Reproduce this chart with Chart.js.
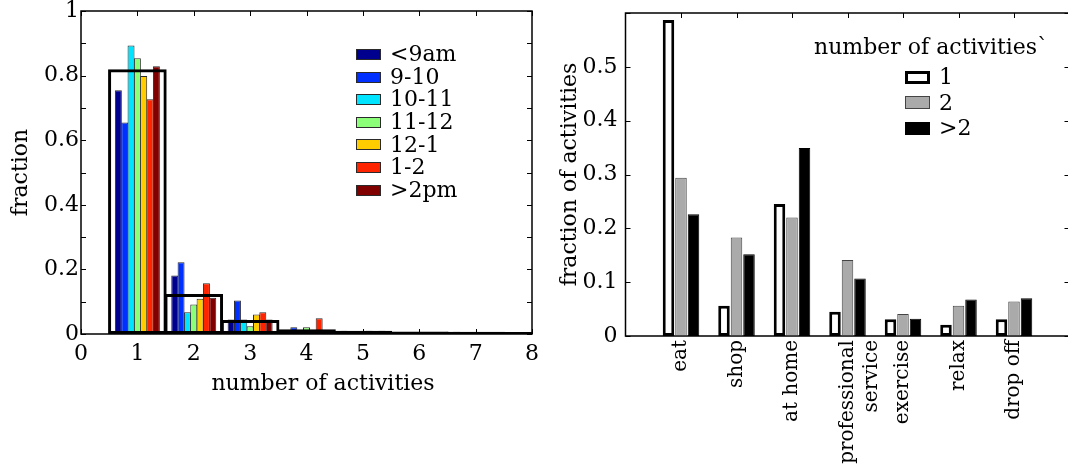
<!DOCTYPE html>
<html><head><meta charset="utf-8">
<script src="https://cdn.jsdelivr.net/npm/chart.js@4.4.1/dist/chart.umd.min.js"></script>
<style>
html,body{margin:0;padding:0;background:#fff;overflow:hidden;width:1068px;height:472px;position:relative;}
#c1{position:absolute;left:0;top:0;}
#c2{position:absolute;left:545px;top:0;}
</style></head><body>
<canvas id="c1" width="545" height="472"></canvas>
<canvas id="c2" width="540" height="472"></canvas>
<script>
const FAMILY = "'DejaVu Serif', 'Liberation Serif', serif";
const FSIZE = 22;

// ---------- Left chart data ----------
const activityCounts = [1, 2, 3, 4, 5, 6, 7, 8];
const timeLabels = ['<9am', '9-10', '10-11', '11-12', '12-1', '1-2', '>2pm'];
const timeColors = ['#00008f', '#0030ff', '#00e4ff', '#8cff78', '#ffcc00', '#ff2400', '#800000'];
const before9am = [0.755, 0.181, 0.045, 0.005, 0.010, 0.004, 0.007, 0.002];
const from9to10 = [0.655, 0.222, 0.104, 0.021, 0.004, 0.003, 0.002, 0.001];
const from10to11 = [0.893, 0.067, 0.045, 0.002, 0.002, 0.002, 0.002, 0.001];
const from11to12 = [0.854, 0.091, 0.024, 0.021, 0.006, 0.006, 0.002, 0.001];
const from12to1 = [0.799, 0.109, 0.060, 0.010, 0.010, 0.006, 0.002, 0.001];
const from1to2 = [0.727, 0.157, 0.067, 0.049, 0.003, 0.006, 0.002, 0.001];
const after2pm = [0.829, 0.112, 0.045, 0.005, 0.010, 0.004, 0.002, 0.001];
const allTimes = [0.820, 0.124, 0.043, 0.015, 0.010, 0.008, 0.007, 0.006];
const timeSeries = [before9am, from9to10, from10to11, from11to12, from12to1, from1to2, after2pm];

// ---------- Right chart data ----------
const activityTypes = ['eat', 'shop', 'at home', ['professional', 'service'], 'exercise', 'relax', 'drop off'];
const countLabels = ['1', '2', '>2'];
const oneActivity = [0.587, 0.056, 0.245, 0.045, 0.031, 0.021, 0.031];
const twoActivities = [0.294, 0.183, 0.220, 0.141, 0.041, 0.056, 0.064];
const moreActivities = [0.226, 0.152, 0.349, 0.107, 0.032, 0.068, 0.070];

const font = { family: FAMILY, size: FSIZE };
const fmt = v => String(+(+v).toFixed(1));

const framePlugin = {
  id: 'frame',
  beforeDatasetsDraw(chart, args, o) {
    const { ctx, chartArea: a, scales: { x, y } } = chart;
    ctx.save();
    ctx.strokeStyle = '#000';
    ctx.lineWidth = 1.5;
    ctx.strokeRect(a.left, a.top, a.right - a.left, a.bottom - a.top);
    const L = 5;
    ctx.lineWidth = 1;
    ctx.beginPath();
    x.ticks.forEach(t => {
      if (o.skipEdgeX && (t.value <= x.min || t.value >= x.max)) return;
      const px = Math.round(x.getPixelForValue(t.value)) + 0.5;
      ctx.moveTo(px, a.bottom); ctx.lineTo(px, a.bottom - L);
      ctx.moveTo(px, a.top); ctx.lineTo(px, a.top + L);
    });
    y.ticks.forEach(t => {
      const py = Math.round(y.getPixelForValue(t.value)) + 0.5;
      ctx.moveTo(a.left, py); ctx.lineTo(a.left + L, py);
      ctx.moveTo(a.right, py); ctx.lineTo(a.right - L, py);
    });
    ctx.stroke();
    ctx.restore();
  }
};

const legendPlugin = {
  id: 'boxLegend',
  afterDraw(chart, args, o) {
    const ctx = chart.ctx;
    ctx.save();
    ctx.font = FSIZE + 'px ' + FAMILY;
    ctx.textBaseline = 'middle';
    ctx.textAlign = 'left';
    ctx.fillStyle = '#000';
    if (o.title) ctx.fillText(o.title, o.titleX, o.titleY);
    const items = chart.data.datasets.filter(d => !d.hideInLegend);
    items.forEach((d, i) => {
      const cy = o.y + i * o.gap;
      const bw = d.legendBorder || 1;
      const top = Math.round(cy - o.h / 2);
      ctx.fillStyle = d.borderColor;
      ctx.fillRect(o.x, top, o.w, o.h);
      ctx.fillStyle = d.backgroundColor;
      ctx.fillRect(o.x + bw, top + bw, o.w - 2 * bw, o.h - 2 * bw);
      ctx.fillStyle = '#000';
      ctx.fillText(d.label, o.textX, cy + 1);
    });
    if (o.xTitle) {
      ctx.textAlign = 'center';
      ctx.fillText(o.xTitle, o.xTitleX, o.xTitleY);
    }
    ctx.restore();
  }
};

function noPad(s) { s.paddingTop = 0; s.paddingBottom = 0; s.paddingLeft = 0; s.paddingRight = 0; }

// ---------- Left chart ----------
const leftDatasets = [{
  label: 'all',
  data: activityCounts.map((c, i) => ({ x: c, y: allTimes[i] })),
  backgroundColor: 'rgba(0,0,0,0)',
  borderColor: '#000',
  borderWidth: 3,
  borderSkipped: false,
  grouped: false,
  categoryPercentage: 1,
  barPercentage: 1.04,
  clip: 0,
  hideInLegend: true,
  order: 0
}].concat(timeSeries.map((vals, k) => ({
  label: timeLabels[k],
  data: activityCounts.map((c, i) => ({ x: c, y: vals[i] })),
  backgroundColor: timeColors[k],
  borderColor: '#2a2a2a',
  borderWidth: 1,
  borderSkipped: false,
  categoryPercentage: 0.787,
  barPercentage: 1.1,
  order: 1
})));

new Chart(document.getElementById('c1'), {
  type: 'bar',
  data: { datasets: leftDatasets },
  options: {
    responsive: false,
    animation: false,
    devicePixelRatio: 1,
    events: [],
    layout: { padding: { left: 8, top: 11, right: 13, bottom: 74 } },
    plugins: {
      legend: { display: false },
      tooltip: { enabled: false },
      frame: {},
      boxLegend: { x: 356, y: 54.5, gap: 22.6, w: 25, h: 11, textX: 390,
        xTitle: 'number of activities', xTitleX: 323, xTitleY: 384 }
    },
    scales: {
      x: {
        type: 'linear', min: 0, max: 8, offset: false,
        afterFit: s => { s.height = 64; noPad(s); },
        grid: { display: false, drawTicks: false },
        border: { display: false },
        ticks: { stepSize: 1, autoSkip: false, maxRotation: 0, padding: 7, color: '#000', font,
          callback: v => fmt(v) }
      },
      y: {
        min: 0, max: 1,
        afterFit: s => { s.width = 73; noPad(s); },
        grid: { display: false, drawTicks: false },
        border: { display: false },
        ticks: { stepSize: 0.1, padding: 2, color: '#000', font,
          callback: v => (Math.round(v * 10) % 2 === 0 ? fmt(v) : '') },
        title: { display: true, text: 'fraction', color: '#000', font, padding: 0 }
      }
    }
  },
  plugins: [framePlugin, legendPlugin]
});

// ---------- Right chart ----------
const rightSeries = [oneActivity, twoActivities, moreActivities];
const rightStyles = [
  { backgroundColor: '#ffffff', borderColor: '#000000', borderWidth: 3, legendBorder: 3 },
  { backgroundColor: '#aaaaaa', borderColor: '#444444', borderWidth: 1, legendBorder: 1 },
  { backgroundColor: '#000000', borderColor: '#000000', borderWidth: 1, legendBorder: 1 }
];
const rightDatasets = rightSeries.map((vals, k) => Object.assign({
  label: countLabels[k],
  data: activityTypes.map((a, i) => ({ x: i + 1, y: vals[i] })),
  borderSkipped: false,
  categoryPercentage: 0.676,
  barPercentage: 0.92
}, rightStyles[k]));

new Chart(document.getElementById('c2'), {
  type: 'bar',
  data: { datasets: rightDatasets },
  options: {
    responsive: false,
    animation: false,
    devicePixelRatio: 1,
    events: [],
    layout: { padding: { left: 12, top: 13, right: 15.5, bottom: 0 } },
    plugins: {
      legend: { display: false },
      tooltip: { enabled: false },
      frame: { skipEdgeX: true },
      boxLegend: { title: 'number of activities`', titleX: 269, titleY: 48,
        x: 360, y: 77, gap: 25.8, w: 25, h: 13, textX: 394 }
    },
    scales: {
      x: {
        type: 'linear', min: 0, max: 8, offset: false,
        afterFit: s => { s.height = 136; noPad(s); },
        grid: { display: false, drawTicks: false },
        border: { display: false },
        ticks: { stepSize: 1, autoSkip: false, minRotation: 90, maxRotation: 90, padding: 4, color: '#000',
          font: { family: FAMILY, size: 20 },
          callback: v => (v >= 1 && v <= activityTypes.length ? activityTypes[v - 1] : '') }
      },
      y: {
        min: 0, max: 0.6,
        afterFit: s => { s.width = 68.5; noPad(s); },
        grid: { display: false, drawTicks: false },
        border: { display: false },
        ticks: { stepSize: 0.1, padding: 8, color: '#000', font,
          callback: v => (v < 0.55 ? fmt(v) : '') },
        title: { display: true, text: 'fraction of activities', color: '#000', font, padding: 0 }
      }
    }
  },
  plugins: [framePlugin, legendPlugin]
});
</script>
</body></html>
